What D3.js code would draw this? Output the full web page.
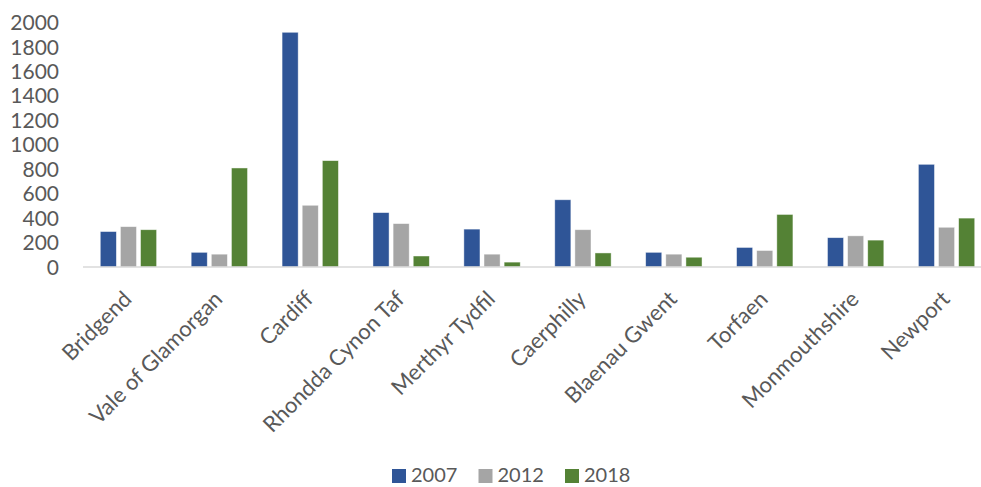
<!DOCTYPE html>
<html>
<head>
<meta charset="utf-8">
<script src="https://cdn.jsdelivr.net/npm/d3@7"></script>
<style>
  body { margin: 0; background: #fff; }
  text { font-family: Lato, "Open Sans", sans-serif; fill: #595959; }
</style>
</head>
<body>
<svg id="chart" width="981" height="487"></svg>
<script>
// data
const areas = ['Bridgend', 'Vale of Glamorgan', 'Cardiff', 'Rhondda Cynon Taf', 'Merthyr Tydfil',
               'Caerphilly', 'Blaenau Gwent', 'Torfaen', 'Monmouthshire', 'Newport'];
const years = ['2007', '2012', '2018'];
const v2007 = [290, 120, 1920, 445, 310, 550, 120, 160, 240, 840];
const v2012 = [330, 105, 505, 355, 105, 305, 105, 135, 255, 325];
const v2018 = [305, 810, 870, 90, 40, 115, 80, 430, 220, 400];
const yTicks = [0, 200, 400, 600, 800, 1000, 1200, 1400, 1600, 1800, 2000];
const colors = ['#2F5597', '#A5A5A5', '#548235'];

const series = [v2007, v2012, v2018];

const svg = d3.select('#chart');

const x = d3.scaleBand().domain(areas).range([83, 992]).paddingInner(0.38).paddingOuter(0.19);
const xs = d3.scaleBand().domain(years).range([0, x.bandwidth()]).paddingInner(0.2);
const y = d3.scaleLinear().domain([0, 2000]).range([267, 22.5]);

// y labels (no axis line)
svg.append('g').selectAll('text')
  .data(yTicks)
  .enter().append('text')
  .attr('x', 59)
  .attr('y', d => y(d))
  .attr('dy', '0.36em')
  .attr('text-anchor', 'end')
  .style('font-size', '21px')
  .text(d => d);

// bars
const groups = svg.append('g').selectAll('g')
  .data(areas)
  .enter().append('g')
  .attr('transform', d => 'translate(' + x(d) + ',0)');

groups.selectAll('rect')
  .data((d, i) => years.map((yr, k) => ({ yr: yr, v: series[k][i], c: colors[k] })))
  .enter().append('rect')
  .attr('x', d => xs(d.yr))
  .attr('y', d => y(d.v))
  .attr('width', xs.bandwidth())
  .attr('height', d => y(0) - y(d.v))
  .attr('fill', d => d.c)
  .attr('stroke', '#fff')
  .attr('stroke-opacity', 0.6)
  .attr('stroke-width', 0.75);

// x axis line
svg.append('line')
  .attr('x1', 83).attr('x2', 992)
  .attr('y1', y(0)).attr('y2', y(0))
  .attr('stroke', '#D9D9D9').attr('stroke-width', 1.5);

// category labels, rotated
svg.append('g').selectAll('text')
  .data(areas)
  .enter().append('text')
  .attr('transform', d => 'translate(' + (x(d) + x.bandwidth() / 2 - 1) + ',295) rotate(-45)')
  .attr('text-anchor', 'end')
  .attr('dy', '0.35em')
  .style('font-size', '22px')
  .text(d => d);

// legend
const leg = svg.append('g').selectAll('g')
  .data(years)
  .enter().append('g')
  .attr('transform', (d, i) => 'translate(' + (392 + i * 86.5) + ',469)');
leg.append('rect').attr('width', 14).attr('height', 14).attr('fill', (d, i) => colors[i]);
leg.append('text').attr('x', 19).attr('y', 13)
  .style('font-size', '20px').text(d => d);
</script>
</body>
</html>
